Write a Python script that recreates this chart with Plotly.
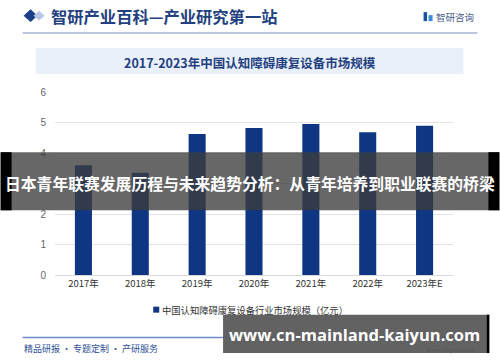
import plotly.graph_objects as go

categories = ["2017年", "2018年", "2019年", "2020年", "2021年", "2022年", "2023年E"]
values = [3.60, 3.35, 4.62, 4.82, 4.95, 4.68, 4.89]
y_ticks = [0, 1, 2, 3, 4, 5, 6]
series_name = "中国认知障碍康复设备行业市场规模（亿元）"
chart_title = "2017-2023年中国认知障碍康复设备市场规模"
header_title = "智研产业百科—产业研究第一站"
footer_left = "精品研报 · 专题定制 · 产研服务"
footer_right = "www.chyxx.com"
logo_text = "智研咨询"
banner_text = "日本青年联赛发展历程与未来趋势分析：从青年培养到职业联赛的桥梁"
url_text = "www.cn-mainland-kaiyun.com"

W, H = 500, 362
L, R, T, B = 54.5, 453.5, 92.0, 275.3
CJK = "Noto Sans CJK SC, Noto Sans, sans-serif"
BAR = "#0e3682"


def px(x):
    return (x - L) / (R - L)


def py(y):
    return (B - y) / (B - T)


fig = go.Figure()
fig.add_trace(go.Bar(
    x=categories, y=values, name=series_name,
    marker=dict(color=BAR, line=dict(width=0)),
    width=0.3, showlegend=False,
))

shapes = []
annotations = []

# header
shapes.append(dict(type="path", xref="paper", yref="paper",
                   path=f"M {px(23)} {py(15.5)} L {px(30)} {py(9)} L {px(37)} {py(15.5)} L {px(30)} {py(22)} Z",
                   fillcolor="#1c3f8c", line=dict(width=0), layer="above"))
shapes.append(dict(type="path", xref="paper", yref="paper",
                   path=f"M {px(33)} {py(15.5)} L {px(38.5)} {py(10.5)} L {px(44)} {py(15.5)} L {px(38.5)} {py(20.5)} Z",
                   fillcolor="#b9c6e4", line=dict(width=0), layer="above"))
annotations.append(dict(text=f"<b>{header_title}</b>", xref="paper", yref="paper",
                        x=px(48), y=py(16), xanchor="left", yanchor="middle", showarrow=False,
                        font=dict(family=CJK, size=16.3, color="#23407f")))
annotations.append(dict(text=logo_text, xref="paper", yref="paper",
                        x=px(477), y=py(16.5), xanchor="right", yanchor="middle", showarrow=False,
                        font=dict(family=CJK, size=9.5, color="#4a5d86")))
shapes.append(dict(type="rect", xref="paper", yref="paper",
                   x0=px(424), x1=px(427.5), y0=py(21), y1=py(12),
                   fillcolor="#1f4fa0", line=dict(width=0), layer="above"))
shapes.append(dict(type="rect", xref="paper", yref="paper",
                   x0=px(429), x1=px(433), y0=py(21), y1=py(15),
                   fillcolor="#3a8ad8", line=dict(width=0), layer="above"))
shapes.append(dict(type="line", xref="paper", yref="paper",
                   x0=px(22), x1=px(478), y0=py(33), y1=py(33),
                   line=dict(color="#a7b5d3", width=1.5)))

# chart title box
shapes.append(dict(type="rect", xref="paper", yref="paper",
                   x0=px(35), x1=px(464), y0=py(74), y1=py(48),
                   fillcolor="#eaf0fa", line=dict(width=0), layer="below"))
annotations.append(dict(text=f"<b>{chart_title}</b>", xref="paper", yref="paper",
                        x=px(250), y=py(62), xanchor="center", yanchor="middle", showarrow=False,
                        font=dict(family=CJK, size=12.5, color="#23407f")))

# legend
shapes.append(dict(type="rect", xref="paper", yref="paper",
                   x0=px(153), x1=px(159), y0=py(313), y1=py(307),
                   fillcolor=BAR, line=dict(width=0), layer="above"))
annotations.append(dict(text=series_name, xref="paper", yref="paper",
                        x=px(160), y=py(310), xanchor="left", yanchor="middle", showarrow=False,
                        font=dict(family=CJK, size=9.3, color="#333333")))

# footer
shapes.append(dict(type="line", xref="paper", yref="paper",
                   x0=px(22), x1=px(478), y0=py(338), y1=py(338),
                   line=dict(color="#6f8cc8", width=1.5)))
annotations.append(dict(text=footer_left, xref="paper", yref="paper",
                        x=px(21), y=py(349), xanchor="left", yanchor="middle", showarrow=False,
                        font=dict(family=CJK, size=9, color="#2f4f94")))
annotations.append(dict(text=footer_right, xref="paper", yref="paper",
                        x=px(478), y=py(350), xanchor="right", yanchor="middle", showarrow=False,
                        font=dict(family="DejaVu Serif, serif", size=6, color="#555555")))

# overlay banner
shapes.append(dict(type="rect", xref="paper", yref="paper",
                   x0=px(0), x1=px(500), y0=py(210.5), y1=py(152.3),
                   fillcolor="rgba(60,60,60,0.78)", line=dict(width=0), layer="above"))
shapes.append(dict(type="rect", xref="paper", yref="paper",
                   x0=px(0), x1=px(11), y0=py(210.5), y1=py(152.3),
                   fillcolor="#000000", line=dict(width=0), layer="above"))
shapes.append(dict(type="rect", xref="paper", yref="paper",
                   x0=px(489), x1=px(500), y0=py(210.5), y1=py(152.3),
                   fillcolor="#000000", line=dict(width=0), layer="above"))
annotations.append(dict(text=f"<b>{banner_text}</b>", xref="paper", yref="paper",
                        x=px(250), y=py(184), xanchor="center", yanchor="middle", showarrow=False,
                        font=dict(family=CJK, size=15.8, color="#ffffff")))

# url box
shapes.append(dict(type="rect", xref="paper", yref="paper",
                   x0=px(223), x1=px(487), y0=py(353.5), y1=py(315),
                   fillcolor="rgba(90,90,90,0.95)", line=dict(width=0), layer="above"))
shapes.append(dict(type="rect", xref="paper", yref="paper",
                   x0=px(487), x1=px(490), y0=py(353.5), y1=py(315),
                   fillcolor="#000000", line=dict(width=0), layer="above"))
annotations.append(dict(text=f"<b>{url_text}</b>", xref="paper", yref="paper",
                        x=px(355), y=py(335), xanchor="center", yanchor="middle", showarrow=False,
                        font=dict(family="Open Sans, DejaVu Sans, sans-serif", size=16.5, color="#ffffff")))

fig.update_layout(
    width=W, height=H,
    margin=dict(l=L, r=W - R, t=T, b=H - B, pad=0),
    paper_bgcolor="#ffffff", plot_bgcolor="#ffffff",
    shapes=shapes, annotations=annotations,
    showlegend=False,
    xaxis=dict(showgrid=False, showline=True, linecolor="#d9d9d9", linewidth=1,
               ticks="", tickfont=dict(family=CJK, size=9.5, color="#333333"),
               fixedrange=True),
    yaxis=dict(range=[0, 6], tickvals=y_ticks, showgrid=True, gridcolor="#e3e3e3",
               gridwidth=1, zeroline=False, showline=False, ticks="",
               ticklabelstandoff=8,
               tickfont=dict(family="Liberation Sans, Arial, sans-serif", size=10, color="#666666"),
               fixedrange=True),
)

fig.write_html("out.html", config={"displayModeBar": False},
               post_script="document.body.style.margin='0';document.body.style.overflow='hidden';")
